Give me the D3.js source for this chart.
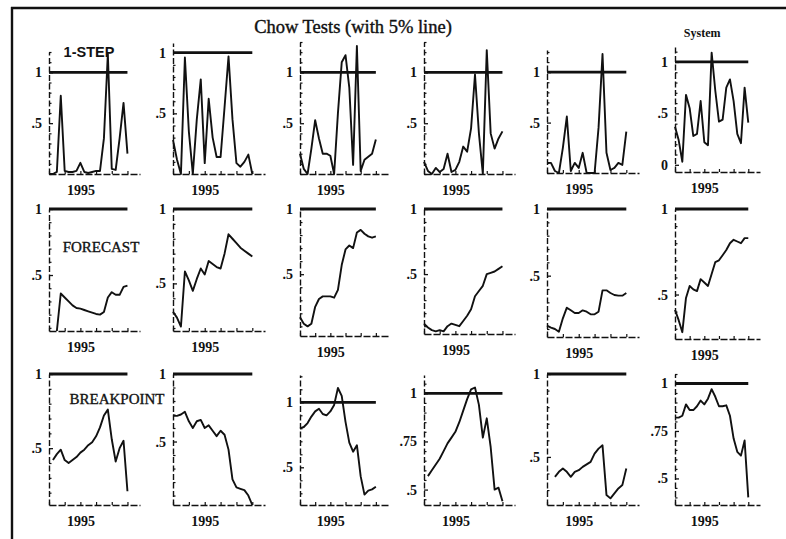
<!DOCTYPE html>
<html><head><meta charset="utf-8">
<script src="https://cdn.jsdelivr.net/npm/d3@7"></script>
<style>
html,body{margin:0;padding:0;background:#fff;}
svg{display:block;}
</style></head><body>
<svg id="chart" width="786" height="539"></svg>
<script>
// ---------------- DATA ----------------
const chartTitle = "Chow Tests (with 5% line)";
const testNames = ["1-STEP", "FORECAST", "BREAKPOINT"];
const columnNames = ["", "", "", "", "", "System"];
const dates = [1993.00, 1993.25, 1993.50, 1993.75, 1994.00, 1994.25, 1994.50, 1994.75,
               1995.00, 1995.25, 1995.50, 1995.75, 1996.00, 1996.25, 1996.50, 1996.75,
               1997.00, 1997.25, 1997.50, 1997.75, 1998.00];
const xTickYears = [1993, 1994, 1995, 1996, 1997, 1998];
const xLabelYears = [1995];
const criticalValue = 1; // 5% line

const oneStep = [
  [0, 0, 0.02, 0.77, 0.03, 0.02, 0.02, 0.03, 0.11, 0.02, 0.01, 0.02, 0.03, 0.03, 0.35, 1.18, 0.05, 0.04, 0.35, 0.70, 0.20],
  [0.28, 0.12, 0.0, 0.96, 0.35, 0.0, 0.45, 0.78, 0.09, 0.62, 0.30, 0.14, 0.14, 0.55, 0.97, 0.45, 0.09, 0.06, 0.10, 0.16, 0.0],
  [0.20, 0.05, 0.0, 0.25, 0.53, 0.35, 0.20, 0.20, 0.18, 0.0, 0.60, 1.10, 1.17, 0.85, 0.09, 1.26, 0.03, 0.14, 0.17, 0.20, 0.34],
  [0.12, 0.03, 0.0, 0.06, 0.02, 0.05, 0.20, 0.02, 0.04, 0.12, 0.27, 0.22, 0.45, 0.98, 0.40, 0.0, 1.22, 0.40, 0.25, 0.35, 0.42],
  [0.10, 0.10, 0.02, 0.0, 0.25, 0.56, 0.02, 0.10, 0.05, 0.20, 0.0, 0.0, 0.0, 0.45, 1.18, 0.20, 0.03, 0.05, 0.10, 0.08, 0.41],
  [0.37, 0.24, 0.03, 0.68, 0.55, 0.28, 0.30, 0.62, 0.22, 0.19, 1.09, 0.72, 0.42, 0.44, 0.75, 0.83, 0.62, 0.30, 0.21, 0.75, 0.41]
];
const forecast = [
  [null, null, 0.076, 0.36, 0.33, 0.30, 0.27, 0.25, 0.245, 0.235, 0.225, 0.215, 0.205, 0.20, 0.22, 0.33, 0.37, 0.35, 0.35, 0.41, 0.42],
  [0.31, 0.27, 0.21, 0.58, 0.52, 0.45, 0.53, 0.60, 0.56, 0.65, 0.63, 0.61, 0.60, 0.70, 0.83, 0.80, 0.77, 0.74, 0.72, 0.70, 0.68],
  [0.17, 0.12, 0.10, 0.12, 0.25, 0.31, 0.33, 0.33, 0.33, 0.32, 0.38, 0.57, 0.69, 0.72, 0.70, 0.82, 0.84, 0.81, 0.79, 0.78, 0.79],
  [0.12, 0.09, 0.07, 0.06, 0.07, 0.06, 0.10, 0.12, 0.11, 0.10, 0.14, 0.18, 0.23, 0.33, 0.37, 0.41, 0.50, 0.51, 0.52, 0.54, 0.56],
  [0.125, 0.11, 0.10, 0.08, 0.18, 0.26, 0.24, 0.22, 0.22, 0.24, 0.23, 0.21, 0.21, 0.23, 0.39, 0.39, 0.37, 0.355, 0.35, 0.35, 0.37],
  [0.41, 0.35, 0.28, 0.48, 0.55, 0.53, 0.52, 0.59, 0.57, 0.55, 0.62, 0.69, 0.70, 0.73, 0.76, 0.80, 0.82, 0.81, 0.80, 0.83, 0.83]
];
const breakpoint = [
  [null, 0.42, 0.46, 0.49, 0.42, 0.40, 0.42, 0.44, 0.47, 0.49, 0.52, 0.54, 0.58, 0.64, 0.72, 0.76, 0.56, 0.41, 0.50, 0.55, 0.21],
  [0.69, 0.69, 0.70, 0.72, 0.65, 0.60, 0.65, 0.66, 0.60, 0.62, 0.58, 0.54, 0.58, 0.55, 0.44, 0.22, 0.16, 0.15, 0.14, 0.10, 0.03],
  [0.80, 0.81, 0.84, 0.89, 0.93, 0.95, 0.91, 0.90, 0.93, 0.98, 1.11, 1.05, 0.85, 0.69, 0.62, 0.67, 0.43, 0.29, 0.32, 0.33, 0.35],
  [null, 0.57, 0.60, 0.63, 0.66, 0.70, 0.74, 0.77, 0.80, 0.85, 0.91, 0.97, 1.02, 1.03, 0.94, 0.77, 0.87, 0.72, 0.50, 0.51, 0.44],
  [null, null, 0.38, 0.41, 0.43, 0.41, 0.38, 0.41, 0.42, 0.44, 0.455, 0.47, 0.52, 0.55, 0.57, 0.27, 0.25, 0.28, 0.31, 0.33, 0.43],
  [0.82, 0.82, 0.83, 0.89, 0.86, 0.86, 0.88, 0.91, 0.89, 0.92, 0.97, 0.93, 0.88, 0.88, 0.885, 0.83, 0.71, 0.64, 0.62, 0.70, 0.40]
];

// axis value ranges (per panel)
const oneStepDomains    = [[0, 1.2], [0, 1.08], [0, 1.3], [0, 1.3], [0, 1.22], [-0.07, 1.165]];
const forecastDomains   = [[0.076, 1], [0.18, 1], [0.026, 1], [0.04, 1], [0.04, 1], [0.24, 1]];
const breakpointDomains = [[0.117, 1], [0.03, 1], [0.21, 1.21], [0.42, 1.095], [0.21, 1], [0.36, 1.05]];
const oneStepTicks    = [[0.5, 1], [0.5, 1], [0.5, 1], [0.5, 1], [0.5, 1], [0, 0.5, 1]];
const forecastTicks   = [[0.5, 1], [0.5, 1], [0.5, 1], [0.5, 1], [0.5, 1], [0.5, 1]];
const breakpointTicks = [[0.5, 1], [0.5, 1], [0.5, 1], [0.5, 0.75, 1], [0.5, 1], [0.5, 0.75, 1]];
const xAxisEnd = 1998.8;

// ---------------- LAYOUT ----------------
const colLeft  = [49, 173, 300, 424, 547, 675];
const colWidth = [91, 92, 88, 91, 92, 85];
const panelBottom = [[174, 174, 174, 174, 173, 172], [331, 331, 336, 334, 337, 339], [505, 505, 505, 505, 505, 505]];
const panelTop    = [[52, 43, 42, 42, 50, 45], [209, 209, 209, 209, 209, 209], [374, 374, 375, 375, 374, 374]];
const rowLabelPos = [[89, 57], [101, 252], [117, 404]];
const rowLabelFont = [
  {family: "'Liberation Sans', Arial, sans-serif", size: 14.5, weight: "bold", stroke: 0},
  {family: "'Liberation Serif', 'Times New Roman', serif", size: 15, weight: "normal", stroke: 0.35},
  {family: "'Liberation Serif', 'Times New Roman', serif", size: 15, weight: "normal", stroke: 0.35}
];
const serif = "'Liberation Serif', 'Times New Roman', serif";

const rows = [
  {series: oneStep, domains: oneStepDomains, ticks: oneStepTicks},
  {series: forecast, domains: forecastDomains, ticks: forecastTicks},
  {series: breakpoint, domains: breakpointDomains, ticks: breakpointTicks}
];

const svg = d3.select("#chart");
svg.append("rect").attr("width", 786).attr("height", 539).attr("fill", "#fff");

// frame (top & left rules)
svg.append("line").attr("x1", 11).attr("x2", 786).attr("y1", 8).attr("y2", 8)
  .attr("stroke", "#111").attr("stroke-width", 2.4);
svg.append("line").attr("x1", 12).attr("x2", 12).attr("y1", 7).attr("y2", 539)
  .attr("stroke", "#111").attr("stroke-width", 2.4);

// title
svg.append("text").attr("x", 353).attr("y", 33).attr("text-anchor", "middle")
  .attr("font-family", serif).attr("font-size", 18.5).attr("fill", "#111")
  .attr("stroke", "#111").attr("stroke-width", 0.4)
  .text(chartTitle);

const fmtTick = d => d === 1 ? "1" : d === 0 ? "0" : String(d).replace(/^0/, "");

rows.forEach((row, r) => {
  row.series.forEach((vals, c) => {
    const L = colLeft[c], W = colWidth[c];
    const B = panelBottom[r][c], T = panelTop[r][c];
    const x = d3.scaleLinear().domain([1993, xAxisEnd]).range([L, L + W]);
    const y = d3.scaleLinear().domain(row.domains[c]).range([B, T]);
    const g = svg.append("g");

    // x axis
    const xa = g.append("g").attr("transform", `translate(0,${B})`)
      .call(d3.axisBottom(x).tickValues(xTickYears).tickSizeInner(-3).tickSizeOuter(0)
        .tickPadding(11).tickFormat(d => xLabelYears.includes(d) ? String(d) : ""));
    xa.select(".domain").attr("stroke", "#111").attr("stroke-width", 1.7).attr("stroke-dasharray", "7,2");
    xa.selectAll(".tick line").attr("stroke", "#111").attr("stroke-width", 1.2);
    xa.selectAll("text").attr("font-family", serif).attr("font-size", 14).attr("font-weight", "bold").attr("fill", "#111");

    // y axis minor ticks
    const labelled = row.ticks[c];
    const minor = y.ticks(10).filter(v => !labelled.some(l => Math.abs(l - v) < 1e-6));
    const ym = g.append("g").attr("transform", `translate(${L},0)`)
      .call(d3.axisLeft(y).tickValues(minor).tickSizeInner(-2.5).tickSizeOuter(0).tickFormat(""));
    ym.select(".domain").remove();
    ym.selectAll(".tick line").attr("stroke", "#111").attr("stroke-width", 1.2);

    // y axis with labels
    const ya = g.append("g").attr("transform", `translate(${L},0)`)
      .call(d3.axisLeft(y).tickValues(labelled).tickSizeInner(-4).tickSizeOuter(0)
        .tickPadding(7).tickFormat(fmtTick));
    ya.select(".domain").attr("stroke", "#111").attr("stroke-width", 1.4).attr("stroke-dasharray", "6,2.5");
    ya.selectAll(".tick line").attr("stroke", "#111").attr("stroke-width", 1.3);
    ya.selectAll("text").attr("font-family", serif).attr("font-size", 14).attr("font-weight", "bold").attr("fill", "#111");

    // 5% line
    g.append("line")
      .attr("x1", x(dates[0])).attr("x2", x(dates[dates.length - 1]))
      .attr("y1", y(criticalValue)).attr("y2", y(criticalValue))
      .attr("stroke", "#111").attr("stroke-width", 2.8);

    // series
    const pts = dates.map((t, i) => ({t, v: vals[i]}));
    g.append("path").datum(pts)
      .attr("fill", "none").attr("stroke", "#111").attr("stroke-width", 1.9)
      .attr("stroke-linejoin", "round")
      .attr("d", d3.line().defined(d => d.v != null).x(d => x(d.t)).y(d => y(d.v)));

    if (r === 0 && columnNames[c]) {
      g.append("text").attr("x", L + W * 0.32).attr("y", 37).attr("text-anchor", "middle")
        .attr("font-family", serif).attr("font-size", 12).attr("font-weight", "bold").attr("fill", "#111")
        .text(columnNames[c]);
    }
  });

  const f = rowLabelFont[r];
  svg.append("text").attr("x", rowLabelPos[r][0]).attr("y", rowLabelPos[r][1])
    .attr("text-anchor", "middle").attr("font-family", f.family).attr("font-size", f.size)
    .attr("font-weight", f.weight).attr("fill", "#111")
    .attr("stroke", "#111").attr("stroke-width", f.stroke)
    .text(testNames[r]);
});
</script>
</body></html>
